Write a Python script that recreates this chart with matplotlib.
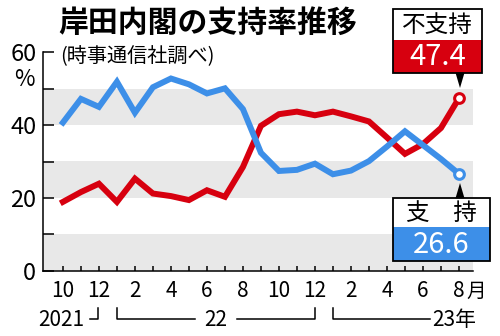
import numpy as np
import matplotlib.pyplot as plt
import matplotlib.transforms as mtransforms
from matplotlib.patches import Rectangle, Polygon

plt.rcParams['font.family'] = ['Noto Sans CJK JP', 'DejaVu Sans']

# 2021年10月 -> 2023年8月 (月ごと)
months = list(range(23))
support = [40.7, 47.2, 45.0, 51.9, 43.4, 50.4, 52.8, 51.2, 48.7, 50.1, 44.4, 32.4,
           27.4, 27.7, 29.4, 26.5, 27.5, 30.1, 34.1, 38.3, 34.5, 30.7, 26.6]
nonsupport = [18.9, 21.6, 23.9, 18.9, 25.3, 21.2, 20.5, 19.4, 22.1, 20.3, 28.5, 39.8,
              43.0, 43.7, 42.7, 43.7, 42.4, 41.0, 36.6, 32.1, 34.8, 39.2, 47.4]
month_labels = ['10', '12', '2', '4', '6', '8', '10', '12', '2', '4', '6', '8']

RED = '#d7000f'
BLUE = '#3d8fe8'
GRAY = '#e8e8e8'

W, H = 500, 336
fig = plt.figure(figsize=(W / 100, H / 100), dpi=100)


def fx(px):
    return px / W


def fy(py):
    return 1 - py / H


# axes: x 43.3..473 px, y 52.3..270.7 px
ax = fig.add_axes([fx(43.3), fy(270.7), fx(473) - fx(43.3), fy(52.3) - fy(270.7)])
ax.set_xlim(-1.09, 22.78)
ax.set_ylim(0, 60)

for lo in (0, 20, 40):
    ax.axhspan(lo, lo + 10, color=GRAY, lw=0, zorder=0)

ax.plot(months, nonsupport, color=RED, lw=4.3, zorder=3, solid_joinstyle='miter')
ax.plot(months, support, color=BLUE, lw=4.3, zorder=4, solid_joinstyle='miter')
ax.plot(months[-1], nonsupport[-1], 'o', ms=7, mfc='white', mec=RED, mew=2.2, zorder=5)
ax.plot(months[-1], support[-1], 'o', ms=7, mfc='white', mec=BLUE, mew=2.2, zorder=5)

for s in ('top', 'right'):
    ax.spines[s].set_visible(False)
for s in ('left', 'bottom'):
    ax.spines[s].set_linewidth(1.1)
    ax.spines[s].set_zorder(6)

ax.set_yticks(range(0, 61, 10))
ax.set_yticklabels(['0', '', '20', '', '40', '', '60'])
ax.tick_params(axis='y', direction='in', length=8, width=1.1, labelsize=17, pad=5)
ax.set_xticks(months)
ax.tick_params(axis='x', direction='in', length=3.8, width=1.1, labelbottom=False)

tr = mtransforms.blended_transform_factory(ax.transData, ax.transAxes)
ymon = -0.093
for i, lab in zip(months[::2], month_labels):
    ax.text(i, ymon, lab, transform=tr, ha='center', va='center', fontsize=15, clip_on=False)
ax.text(22.4, ymon, '月', transform=tr, ha='left', va='center', fontsize=14)

# 年の表示と括弧
yyr = -0.226
ybr = -0.221
ytop = -0.171
lk = dict(transform=tr, color='black', lw=1.1, clip_on=False)
ax.text(1.17, yyr, '2021', transform=tr, ha='right', va='center', fontsize=15)
ax.plot([1.5, 1.95, 1.95], [ybr, ybr, ytop], **lk)
ax.plot([2.98, 2.98, 7.33], [ytop, ybr, ybr], **lk)
ax.text(8.5, yyr, '22', transform=tr, ha='center', va='center', fontsize=15)
ax.plot([9.67, 14.0, 14.0], [ybr, ybr, ytop], **lk)
ax.plot([15.02, 15.02, 20.4], [ytop, ybr, ybr], **lk)
ax.text(20.5, yyr, '23年', transform=tr, ha='left', va='center', fontsize=15)

# タイトル
fig.text(fx(58), fy(23), '岸田内閣の支持率推移', fontsize=21.5, weight='bold',
         ha='left', va='center')
fig.text(fx(60), fy(57), '(時事通信社調べ)', fontsize=14.5, ha='left', va='center')
fig.text(fx(24), fy(79), '%', fontsize=16, ha='center', va='center')


def callout(x0, x1, ytop_px, ymid, ybot, label, value, color, tri_y0, tri_y1, apex_x):
    t = fig.transFigure
    fig.add_artist(Rectangle((fx(x0), fy(ymid)), fx(x1) - fx(x0), fy(ytop_px) - fy(ymid),
                             transform=t, facecolor='white', edgecolor='none', zorder=10))
    fig.add_artist(Rectangle((fx(x0), fy(ybot)), fx(x1) - fx(x0), fy(ymid) - fy(ybot),
                             transform=t, facecolor=color, edgecolor='none', zorder=10))
    fig.add_artist(Rectangle((fx(x0), fy(ybot)), fx(x1) - fx(x0), fy(ytop_px) - fy(ybot),
                             transform=t, facecolor='none', edgecolor='black', lw=1.3, zorder=11))
    fig.add_artist(Polygon([(fx(apex_x - 4.5), fy(tri_y0)), (fx(apex_x + 4.5), fy(tri_y0)),
                            (fx(apex_x), fy(tri_y1))], closed=True, transform=t,
                           facecolor='black', edgecolor='none', zorder=11))
    cx = (x0 + x1) / 2
    fig.text(fx(cx), fy((ytop_px + ymid) / 2 + 1), label, fontsize=17, ha='center',
             va='center', zorder=12)
    fig.text(fx(cx), fy((ymid + ybot) / 2 + 1), value, fontsize=21, color='white',
             ha='center', va='center', zorder=12)


callout(393, 482, 9.3, 40, 72.7, '不支持', f'{nonsupport[-1]:.1f}', RED, 72.7, 88, 460)
callout(393, 490, 198.3, 226.7, 261, '支\u3000持', f'{support[-1]:.1f}', BLUE, 198.3, 183, 460)

fig.savefig('out.png', dpi=100)
